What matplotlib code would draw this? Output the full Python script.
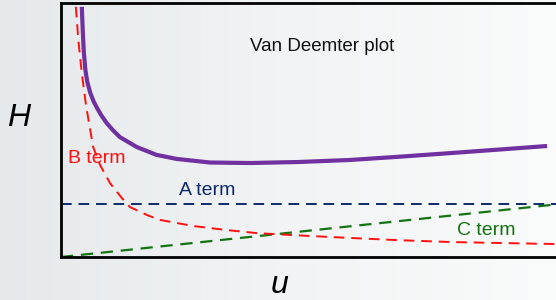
import numpy as np
import matplotlib
matplotlib.use('Agg')
import matplotlib.pyplot as plt

plt.rcParams['font.family'] = ['Liberation Sans', 'DejaVu Sans']

# values (u and H in arbitrary units, 0..10)
h_u = [0.42, 0.44, 0.46, 0.49, 0.53, 0.59, 0.66, 0.73, 0.82, 0.92, 1.05, 1.19, 1.53, 1.93, 2.34, 3.01, 3.82,
       4.80, 5.84, 6.85, 7.86, 8.85, 9.82]
h_val = [9.85, 8.90, 8.10, 7.40, 6.90, 6.47, 6.12, 5.86, 5.56, 5.28, 4.99, 4.72, 4.33, 4.02, 3.86, 3.72, 3.70,
         3.74, 3.82, 3.95, 4.09, 4.23, 4.37]

b_u = [0.30, 0.35, 0.42, 0.51, 0.65, 0.79, 0.99, 1.23, 1.39, 1.74, 2.00, 2.67, 3.35, 3.96, 4.90, 5.84, 6.85, 7.86, 8.90, 10.0]
b_val = [9.85, 8.54, 7.24, 5.91, 4.33, 3.62, 2.91, 2.32, 1.97, 1.65, 1.46, 1.22, 1.06, 0.94, 0.84, 0.75, 0.66, 0.59, 0.55, 0.51]

a_u = [0.0, 10.0]
a_val = [2.09, 2.09]

c_u = [0.0, 10.0]
c_val = [0.0, 2.07]

fig = plt.figure(figsize=(5.56, 3.0), dpi=100)

# soft grey background like the slide
bg = fig.add_axes([0, 0, 1, 1], zorder=-1)
grad = np.linspace(0, 1, 256).reshape(1, -1)
bg.imshow(grad, aspect='auto', cmap=matplotlib.colors.LinearSegmentedColormap.from_list(
    'bg', ['#e6e9eb', '#f1f3f4', '#fafbfb']), extent=[0, 1, 0, 1])
bg.axis('off')

ax = fig.add_axes([61 / 556, 43 / 300, 495 / 556, 254 / 300])
ax.patch.set_alpha(0)

ax.plot(a_u, a_val, color='#0f2a6b', lw=1.4, ls=(0, (5.5, 3.5)))
ax.plot(c_u, c_val, color='#137313', lw=1.6, ls=(0, (5.5, 3.5)))
ax.plot(b_u, b_val, color='#ff1010', lw=1.4, ls=(0, (5.5, 3.5)))
ax.plot(h_u, h_val, color='#7030a0', lw=3.0, solid_capstyle='butt', solid_joinstyle='round')

ax.text(5.27, 8.27, 'Van Deemter plot', fontsize=13.5, color='#111111', ha='center', va='center')
ax.text(2.95, 2.60, 'A term', fontsize=14, color='#0f2a6b', ha='center', va='center')
ax.text(0.73, 3.86, 'B term', fontsize=14, color='#ff1010', ha='center', va='center')
ax.text(8.59, 1.06, 'C term', fontsize=14, color='#137313', ha='center', va='center')

ax.set_xlim(0, 10)
ax.set_ylim(0, 10)
ax.set_xticks([])
ax.set_yticks([])
for side in ['left', 'bottom', 'top']:
    ax.spines[side].set_linewidth(2.0)
    ax.spines[side].set_color('black')
ax.spines['right'].set_visible(False)

fig.text(19 / 556, 1 - 118 / 300, 'H', fontsize=23, style='italic', ha='center', va='center')
fig.text(280 / 556, 1 - 285 / 300, 'u', fontsize=23, style='italic', ha='center', va='center')

fig.savefig('out.png', dpi=100)
